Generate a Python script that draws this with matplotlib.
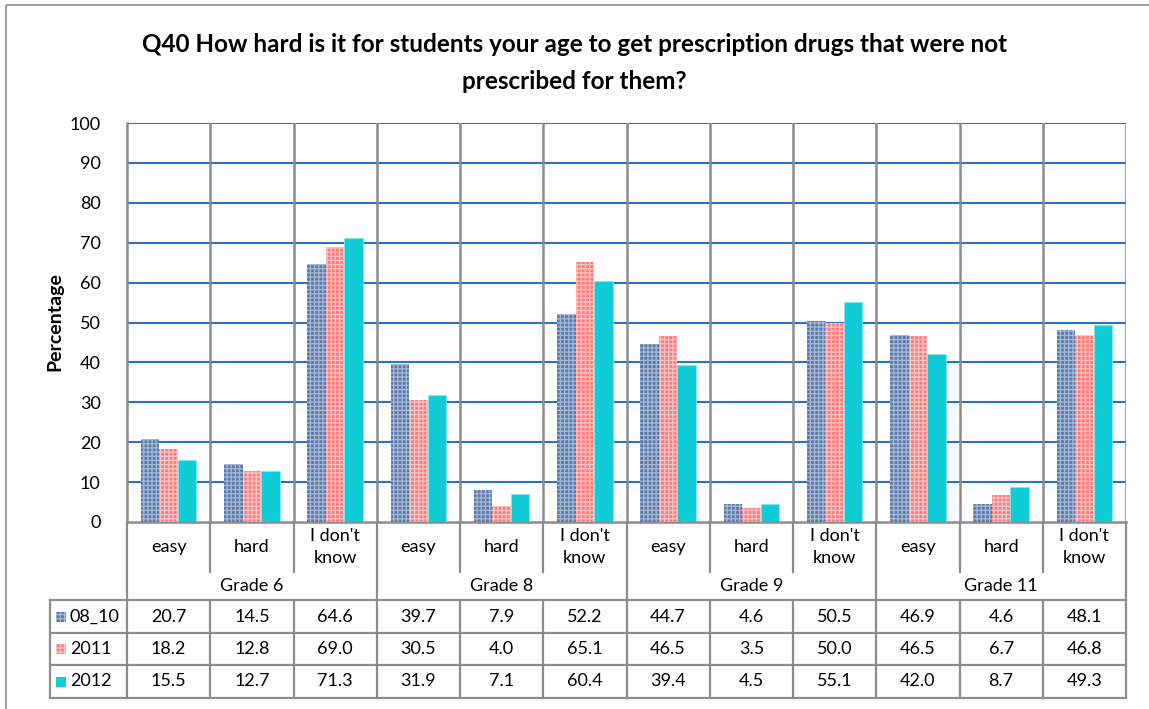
#!/usr/bin/env python
"""Q40 chart: grouped bars with an Excel-style data table underneath."""
import matplotlib
matplotlib.use("Agg")
import matplotlib.pyplot as plt
from matplotlib.lines import Line2D
from matplotlib.patches import Rectangle

# ---- data ----
title = ("Q40 How hard is it for students your age to get prescription drugs that were not\n"
         "prescribed for them?")
grades = ["Grade 6", "Grade 8", "Grade 9", "Grade 11"]
answers = ["easy", "hard", "I don't\nknow"]
series_names = ["08_10", "2011", "2012"]
vals_08_10 = [20.7, 14.5, 64.6, 39.7, 7.9, 52.2, 44.7, 4.6, 50.5, 46.9, 4.6, 48.1]
vals_2011 = [18.2, 12.8, 69.0, 30.5, 4.0, 65.1, 46.5, 3.5, 50.0, 46.5, 6.7, 46.8]
vals_2012 = [15.5, 12.7, 71.3, 31.9, 7.1, 60.4, 39.4, 4.5, 55.1, 42.0, 8.7, 49.3]
y_ticks = [0, 10, 20, 30, 40, 50, 60, 70, 80, 90, 100]

# ---- styling ----
plt.rcParams['font.family'] = ['Lato', 'DejaVu Sans']
plt.rcParams['hatch.linewidth'] = 0.9
face = ["#5B7BAC", "#FF7B7B", "#10CCD6"]
hatch_col = ["#A7B8D4", "#FFC4C4", None]
grid_blue = "#2A72C6"
grey = "#8C8C8C"
fs = 13  # table / tick text size

W, H = 1149, 709
# layout in pixels
L, R, T, B = 127, 1126, 123, 522
tab_left = 50
cat_row_bot = 572
row_lines = [600, 633, 665, 698]

fig = plt.figure(figsize=(W / 100, H / 100), dpi=100)
ax = fig.add_axes([L / W, 1 - B / H, (R - L) / W, (B - T) / H])

series = [vals_08_10, vals_2011, vals_2012]
ncat = len(vals_08_10)
bw = 0.222
for k, vals in enumerate(series):
    xs = [i + 0.5 + (k - 1) * bw for i in range(ncat)]
    if hatch_col[k]:
        ax.bar(xs, vals, width=bw, color=face[k], edgecolor=hatch_col[k],
               hatch="++++", linewidth=0, zorder=3)
    else:
        ax.bar(xs, vals, width=bw, color=face[k], edgecolor="#7FE6EC",
               linewidth=0.6, zorder=3)

ax.set_xlim(0, ncat)
ax.set_ylim(0, 100)
ax.set_yticks(y_ticks)
ax.set_yticklabels([str(t) for t in y_ticks], fontsize=fs)
ax.set_xticks([])
for t in y_ticks[1:]:
    ax.axhline(t, color=grid_blue, lw=1.5, zorder=1)
for i in range(1, ncat + 1):
    ax.axvline(i, color=grey, lw=1.8, zorder=1)
for s in ["top", "right"]:
    ax.spines[s].set_visible(False)
ax.spines["left"].set_color(grey)
ax.spines["left"].set_linewidth(1.8)
ax.spines["bottom"].set_color(grey)
ax.spines["bottom"].set_linewidth(1.8)
ax.tick_params(axis="y", length=0, pad=19)

fig.text(55 / W, 1 - 322 / H, "Percentage", rotation=90, ha="center", va="center",
         fontsize=14, fontweight="bold")
fig.text(0.5, 1 - 63 / H, title, ha="center", va="center", fontsize=17.5,
         fontweight="bold", linespacing=1.7)

# ---- overlay for table ----
ov = fig.add_axes([0, 0, 1, 1], zorder=5)
ov.set_xlim(0, W)
ov.set_ylim(H, 0)
ov.axis("off")

def line(x0, y0, x1, y1):
    ov.add_line(Line2D([x0, x1], [y0, y1], color=grey, lw=1.6))

cw = (R - L) / ncat
# vertical lines
line(L, B, L, row_lines[-1])
for i in range(1, ncat + 1):
    x = L + i * cw
    if i % 3 == 0:
        line(x, B, x, row_lines[-1])
    else:
        line(x, B, x, cat_row_bot)
        line(x, row_lines[0], x, row_lines[-1])
line(tab_left, row_lines[0], tab_left, row_lines[-1])
for y in row_lines:
    line(tab_left, y, R, y)

# category + group labels
for i in range(ncat):
    ov.text(L + (i + 0.5) * cw, 547, answers[i % 3], ha="center", va="center",
            fontsize=fs, linespacing=1.4)
for g, name in enumerate(grades):
    ov.text(L + (g * 3 + 1.5) * cw, 586, name, ha="center", va="center", fontsize=fs)

# data rows
for k, vals in enumerate(series):
    yc = (row_lines[k] + row_lines[k + 1]) / 2
    ov.add_patch(Rectangle((56, yc - 5), 10, 10, facecolor=face[k],
                           edgecolor=hatch_col[k] or face[k],
                           hatch="++++" if hatch_col[k] else None, lw=0))
    ov.text(70, yc, series_names[k], ha="left", va="center", fontsize=fs)
    for i, v in enumerate(vals):
        ov.text(L + (i + 0.5) * cw, yc, f"{v:.1f}", ha="center", va="center",
                fontsize=fs)

# chart border
ov.add_patch(Rectangle((6, 5), W, H, fill=False, edgecolor=grey, lw=1.2))

fig.savefig("out.png", dpi=100)
